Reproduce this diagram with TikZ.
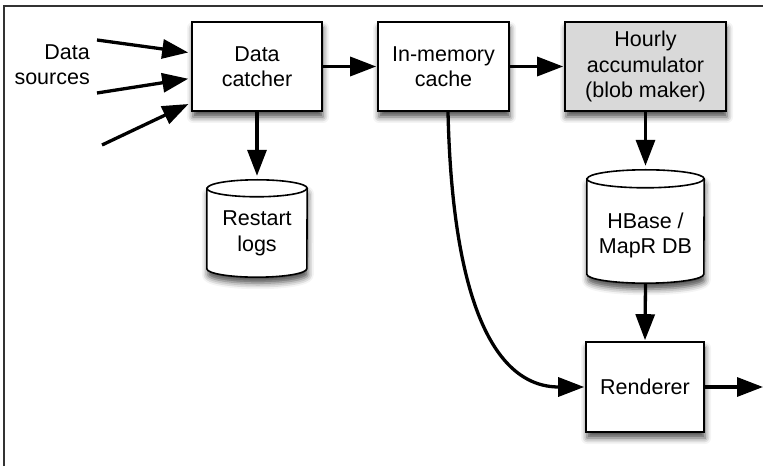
\documentclass[tikz,border=0pt]{standalone}
\usepackage{fontspec}
\setmainfont{Liberation Sans}
\usetikzlibrary{arrows.meta,shadows.blur,calc}
\newcommand\drawcyl[3]{%
  \path[draw=black,line width=1.6pt,fill=white,
        blur shadow={shadow xshift=1pt,shadow yshift=-6pt,shadow blur radius=6pt,shadow opacity=70}]
    ([yshift=-#3]#1.north west) -- ([yshift=#3]#1.south west)
    arc[start angle=180,end angle=360,x radius=#2,y radius=#3]
    -- ([yshift=-#3]#1.north east)
    arc[start angle=0,end angle=180,x radius=#2,y radius=#3] -- cycle;
  \draw[line width=1.6pt] ([yshift=-#3]#1.north west)
    arc[start angle=180,end angle=360,x radius=#2,y radius=#3];}
\begin{document}
\begin{tikzpicture}[x=1pt,y=1pt,
  txt/.style={font=\fontsize{21.5}{25.5}\selectfont,align=center,inner sep=0pt},
  box/.style={txt,draw=black,line width=1.6pt,fill=white,
     blur shadow={shadow xshift=1pt,shadow yshift=-6pt,shadow blur radius=6pt,shadow opacity=70}},
  arr/.style={line width=3.3pt,-{Triangle[length=26pt,width=19pt,fill=black]}},
  frame/.style={line width=1.3pt,draw=black!80}]
\useasboundingbox (0,0) rectangle (763,466);
\draw[frame] (4,0) -- (4,460) -- (763,460);

\node[box,minimum width=130pt,minimum height=89pt] (dc) at (257,399.5) {Data\\catcher};
\node[box,minimum width=131pt,minimum height=89pt] (cache) at (443.5,399.5) {In-memory\\cache};
\node[box,fill=black!15,minimum width=161pt,minimum height=89pt] (hourly) at (645.5,399.5) {Hourly\\accumulator\\(blob maker)};
\node[box,minimum width=118pt,minimum height=90pt] (rend) at (645,79) {Renderer};

\node[inner sep=0pt,minimum width=100pt,minimum height=97pt] (logs) at (257,237.5) {};
\drawcyl{logs}{50pt}{8.5pt}
\node[txt] (logstext) at ([yshift=-5pt]logs.center) {Restart\\logs};

\node[inner sep=0pt,minimum width=117pt,minimum height=113pt] (hbase) at (645.5,239.5) {};
\drawcyl{hbase}{58.5pt}{9pt}
\node[txt] (hbasetext) at ([yshift=-9pt]hbase.center) {HBase /\\MapR DB};

\node[txt,align=right,anchor=east] (src) at (90,401.5) {Data\\sources};

\coordinate (s1) at (97,426);
\coordinate (s2) at (97,373);
\coordinate (s3) at (102,321);
\coordinate (out) at (763,79);

\draw[arr,shorten >=3pt] (s1) -- ($(dc.north west)!0.35!(dc.south west)$);
\draw[arr,shorten >=3pt] (s2) -- ($(dc.north west)!0.63!(dc.south west)$);
\draw[arr,shorten >=3pt] (s3) -- ($(dc.north west)!0.90!(dc.south west)$);
\draw[arr,shorten >=1pt] (dc.east) -- (cache.west);
\draw[arr,shorten >=1pt] (cache.east) -- (hourly.west);
\draw[arr,shorten >=4pt] (dc.south) -- (logs.north);
\draw[arr,shorten >=4pt] (hourly.south) -- (hbase.north);
\draw[arr,shorten >=1pt] (hbase.south) -- (rend.north);
\draw[arr,shorten >=1pt] ([xshift=4.5pt]cache.south) .. controls (452,176) and (490,79) .. (rend.west);
\draw[arr] (rend.east) -- (out);
\end{tikzpicture}
\end{document}
